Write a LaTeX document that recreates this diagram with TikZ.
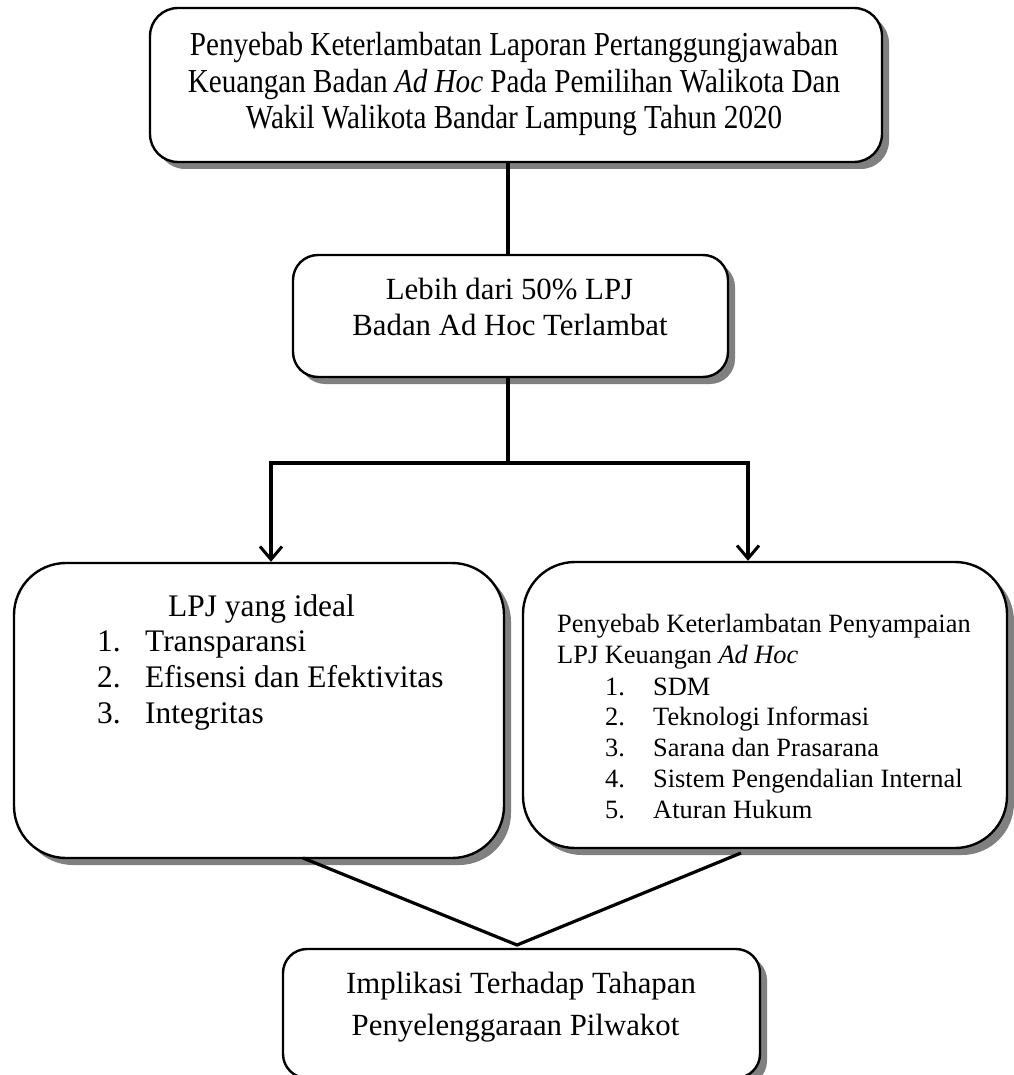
\documentclass[tikz,border=0pt]{standalone}
\usepackage{fontspec}
\setmainfont{Liberation Serif}
\newfontfamily\topfont[FakeStretch=0.87]{Liberation Serif}
\usetikzlibrary{shadows,arrows.meta}
\tikzset{
  box/.style={draw=black, line width=2.4pt, fill=white, rounded corners=#1, inner sep=0pt,
    drop shadow={shadow xshift=7pt, shadow yshift=-7pt, fill=black!50, opacity=1}},
  conn/.style={line width=3.2pt, line cap=rect},
  arr/.style={line width=3.2pt, -{Straight Barb[length=13pt,width=22pt,line width=3pt]}},
  ln/.style={inner sep=0pt, anchor=base},
  lw/.style={inner sep=0pt, anchor=base west},
  ftop/.style={font=\topfont\fontsize{33.5}{36}\selectfont},
  fmid/.style={font=\fontsize{30.8}{36}\selectfont},
  fleft/.style={font=\fontsize{31.4}{36}\selectfont},
  fright/.style={font=\fontsize{26.4}{31}\selectfont},
}
\begin{document}
\begin{tikzpicture}[x=1pt,y=-1pt]
\useasboundingbox (0,0) rectangle (1013,1075);
% boxes
\node[box=28pt, minimum width=732pt, minimum height=154pt] (top) at (516,85) {};
\node[box=25pt, minimum width=435pt, minimum height=122pt] (mid) at (510.5,316) {};
\node[box=52pt, minimum width=490pt, minimum height=295pt] (left) at (259,710.5) {};
\node[box=52pt, minimum width=484pt, minimum height=286pt] (right) at (765,705) {};
\node[box=24pt, minimum width=477pt, minimum height=129pt] (bot) at (521.5,1013.5) {};
% top text
\node[ln, ftop] (t1) at (514,56) {Penyebab Keterlambatan Laporan Pertanggungjawaban};
\node[ln, ftop] (t2) at (514,92.5) {Keuangan Badan \textit{Ad Hoc} Pada Pemilihan Walikota Dan};
\node[ln, ftop] (t3) at (514,129) {Wakil Walikota Bandar Lampung Tahun 2020};
% mid text
\node[ln, fmid] (m1) at (509.5,299) {Lebih dari 50\% LPJ};
\node[ln, fmid] (m2) at (510,335) {Badan Ad Hoc Terlambat};
% left text
\node[lw, fleft] (l0) at (168,616) {LPJ yang ideal};
\node[lw, fleft] (l1n) at (97,651) {1.};
\node[lw, fleft] (l1) at (145,651) {Transparansi};
\node[lw, fleft] (l2n) at (97,687) {2.};
\node[lw, fleft] (l2) at (145,687) {Efisensi dan Efektivitas};
\node[lw, fleft] (l3n) at (97,723) {3.};
\node[lw, fleft] (l3) at (145,723) {Integritas};
% right text
\node[lw, fright] (r0) at (557,632) {Penyebab Keterlambatan Penyampaian};
\node[lw, fright] (r00) at (557,663) {LPJ Keuangan \textit{Ad Hoc}};
\node[lw, fright] (r1n) at (605,695) {1.};
\node[lw, fright] (r1) at (653,695) {SDM};
\node[lw, fright] (r2n) at (605,725.5) {2.};
\node[lw, fright] (r2) at (653,725.5) {Teknologi Informasi};
\node[lw, fright] (r3n) at (605,756) {3.};
\node[lw, fright] (r3) at (653,756) {Sarana dan Prasarana};
\node[lw, fright] (r4n) at (605,787) {4.};
\node[lw, fright] (r4) at (653,787) {Sistem Pengendalian Internal};
\node[lw, fright] (r5n) at (605,818) {5.};
\node[lw, fright] (r5) at (653,818) {Aturan Hukum};
% bottom text
\node[ln, fmid] (b1) at (521,993) {Implikasi Terhadap Tahapan};
\node[ln, fmid] (b2) at (515.5,1035) {Penyelenggaraan Pilwakot};
% connectors
\coordinate (j) at (508,463);
\coordinate (jl) at (271,463);
\coordinate (jr) at (748,463);
\coordinate (ls) at (303,858);
\coordinate (rs) at (741,853);
\coordinate (apex) at (517,945);
\draw[conn] (top.south -| j) -- (mid.north -| j);
\draw[conn] (mid.south -| j) -- (j);
\draw[conn] (jl) -- (jr);
\draw[arr] (jl) -- (left.north -| jl);
\draw[arr] (jr) -- (right.north -| jr);
\draw[line width=3.2pt, line join=miter] (ls) -- (apex) -- (rs);
\end{tikzpicture}
\end{document}
